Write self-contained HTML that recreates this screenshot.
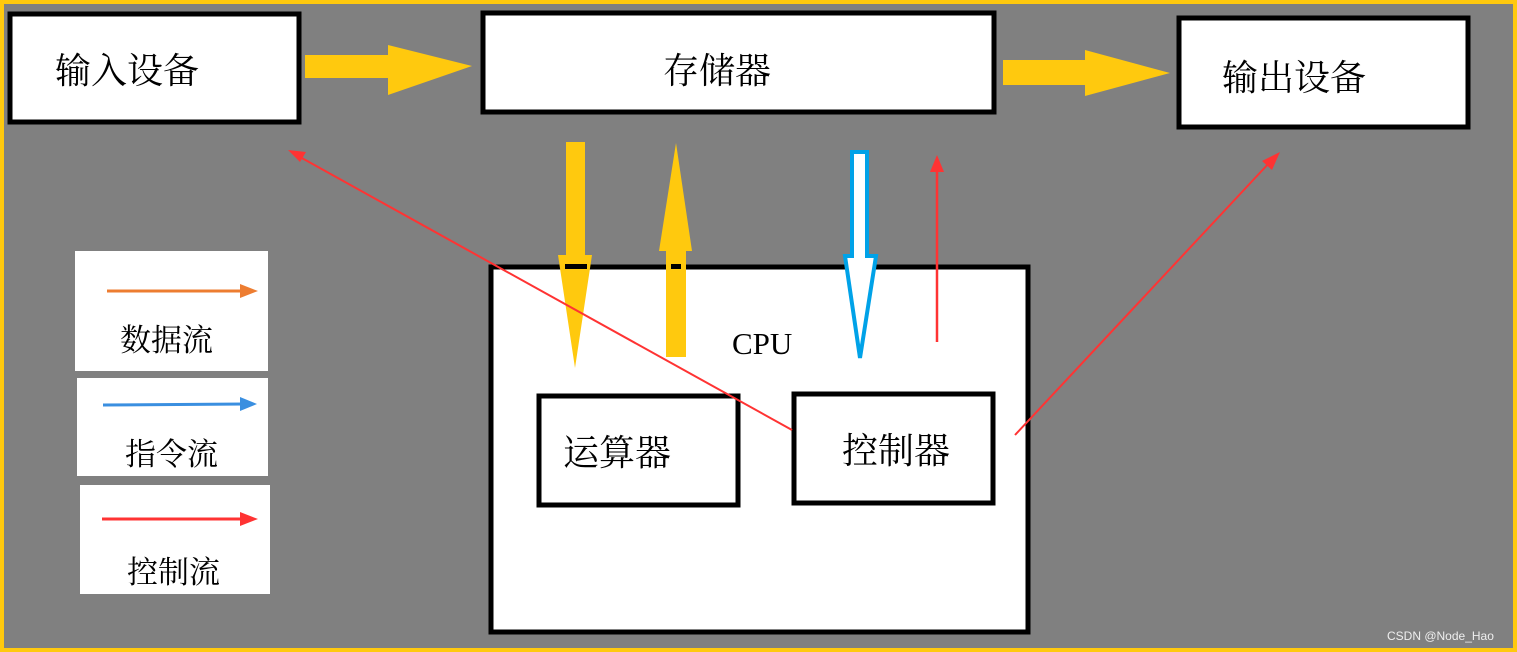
<!DOCTYPE html><html><head><meta charset="utf-8"><style>body{margin:0}svg{display:block}</style></head><body>
<svg width="1517" height="652" xmlns="http://www.w3.org/2000/svg" font-family="'Liberation Serif','Noto Serif CJK SC','Noto Sans CJK SC',serif">
<rect x="2" y="2" width="1513" height="648" fill="#808080" stroke="#ffc90e" stroke-width="4"/>
<g fill="#fff" stroke="#000" stroke-width="5">
<rect x="10" y="14" width="289" height="108"/>
<rect x="483" y="13" width="511" height="99"/>
<rect x="1179" y="18" width="289" height="109"/>
<rect x="491" y="267" width="537" height="365"/>
<rect x="539" y="396" width="199" height="109"/>
<rect x="794" y="394" width="199" height="109"/>
</g>
<g fill="#fff" stroke="none">
<rect x="75" y="251" width="193" height="120"/>
<rect x="77" y="378" width="191" height="98"/>
<rect x="80" y="485" width="190" height="109"/>
</g>
<g font-size="36" fill="#000">
<text x="55" y="83">输入设备</text>
<text x="663" y="83">存储器</text>
<text x="1222" y="90">输出设备</text>
<text x="563" y="465">运算器</text>
<text x="842" y="463">控制器</text>
</g>
<text x="732" y="354" font-size="31">CPU</text>
<g font-size="31">
<text x="120" y="351">数据流</text>
<text x="125" y="465">指令流</text>
<text x="127" y="583">控制流</text>
</g>
<g fill="#ffc90e">
<polygon points="305,55 388,55 388,45 472,66 388,95 388,78 305,78"/>
<polygon points="1003,60 1085,60 1085,50 1170,73 1085,96 1085,85 1003,85"/>
<polygon points="566,142 585,142 585,255 592,255 575,368 558,255 566,255"/>
<polygon points="676,143 692,251 686,251 686,357 666,357 666,251 659,251"/>
</g>
<rect x="565" y="264" width="22" height="5" fill="#000"/>
<rect x="671" y="264" width="10" height="5" fill="#000"/>
<polygon points="852,152 867,152 867,256 876,256 860,358 845,256 852,256" fill="#fff" stroke="#00a2e8" stroke-width="4"/>
<g stroke="#ff3333" fill="#ff3333">
<line x1="937" y1="342" x2="937" y2="170" stroke-width="2.5"/>
<polygon points="937,155 930,172 944,172" stroke="none"/>
<line x1="792" y1="430" x2="300" y2="157" stroke-width="2"/>
<polygon points="288,150 306,152 300,162" stroke="none"/>
<line x1="1015" y1="435" x2="1270" y2="162" stroke-width="2"/>
<polygon points="1280,152 1262,161 1272,170" stroke="none"/>
</g>
<g stroke-width="3">
<line x1="107" y1="291" x2="245" y2="291" stroke="#ed7d31"/><polygon points="258,291 240,284 240,298" fill="#ed7d31"/>
<line x1="103" y1="405" x2="245" y2="404" stroke="#3a8fe0"/><polygon points="257,404 240,397 240,411" fill="#3a8fe0"/>
<line x1="102" y1="519" x2="245" y2="519" stroke="#ff3333"/><polygon points="258,519 240,512 240,526" fill="#ff3333"/>
</g>
<text x="1387" y="640" font-family="'Liberation Sans',sans-serif" font-size="12" fill="#eee">CSDN @Node_Hao</text>
</svg>
</body></html>
